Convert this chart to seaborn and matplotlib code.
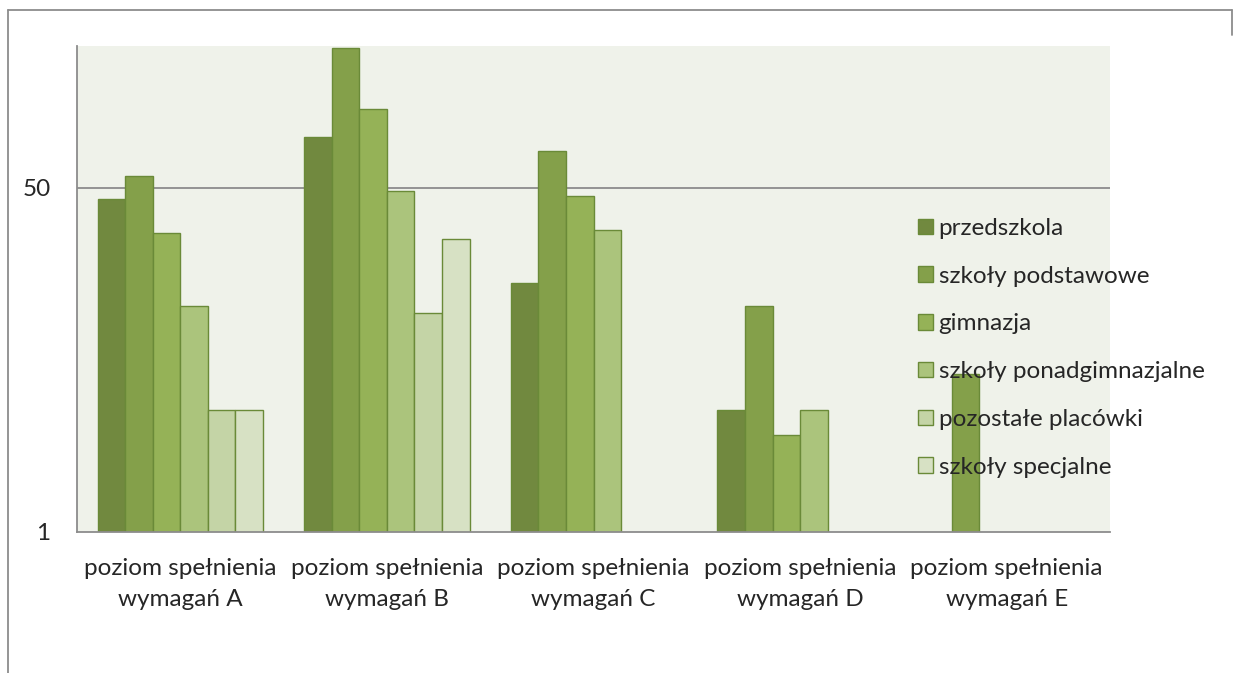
import numpy as np
import pandas as pd
import matplotlib
matplotlib.use("Agg")
import matplotlib.pyplot as plt
from matplotlib.lines import Line2D
import seaborn as sns

categories = ["poziom spełnienia\nwymagań A", "poziom spełnienia\nwymagań B",
              "poziom spełnienia\nwymagań C", "poziom spełnienia\nwymagań D",
              "poziom spełnienia\nwymagań E"]
series = ["przedszkola", "szkoły podstawowe", "gimnazja",
          "szkoły ponadgimnazjalne", "pozostałe placówki", "szkoły specjalne"]
przedszkola = [44, 89, 17, 4, np.nan]
podstawowe = [57, 244, 76, 13, 6]
gimnazja = [30, 122, 45.6, 3, np.nan]
ponadgimnazjalne = [13, 48, 31, 4, np.nan]
pozostale = [4, 12, np.nan, np.nan, np.nan]
specjalne = [4, 28, np.nan, np.nan, np.nan]
colors = ["#71893F", "#84A04A", "#95B257", "#ABC47C", "#C4D4A6", "#D7E1C4"]

rows = []
for s, vals in zip(series, [przedszkola, podstawowe, gimnazja, ponadgimnazjalne, pozostale, specjalne]):
    for c, v in zip(categories, vals):
        rows.append({"cat": c, "series": s, "value": v})
df = pd.DataFrame(rows)

sns.set_style("white")
plt.rcParams["font.family"] = ["Lato", "DejaVu Sans"]
FS = 17.5

fig = plt.figure(figsize=(12.41, 6.73), dpi=100)
ax = fig.add_axes([77/1241, 1-532/673, (1110-77)/1241, (532-46)/673])
ax.set_facecolor("#EFF2EA")

sns.barplot(data=df, x="cat", y="value", hue="series", order=categories,
            hue_order=series, palette=colors, saturation=1, width=0.8, ax=ax,
            edgecolor="#6A8A38", linewidth=1.0, errorbar=None, log_scale=True)

ax.set_yscale("log")
ax.set_ylim(1, 250)
ax.set_xlim(-0.5, 4.5)
ax.set_yticks([1, 50])
ax.set_yticklabels(["1", "50"], fontsize=FS)
ax.yaxis.set_minor_locator(matplotlib.ticker.NullLocator())
ax.axhline(50, color="#8C8C8C", lw=1.3, zorder=0.5)

ax.set_xticks([-0.5, 0.5, 1.5, 2.5, 3.5, 4.5])
ax.set_xticklabels([])
ax.set_xticks(range(5), minor=True)
ax.set_xticklabels(categories, minor=True, fontsize=FS, linespacing=1.55)
ax.tick_params(axis="x", which="major", length=7, color="#8C8C8C", width=1.3)
ax.tick_params(axis="x", which="minor", length=0, pad=19)
ax.tick_params(axis="y", length=7, color="#8C8C8C", width=1.3, pad=12)
ax.set_xlabel("")
ax.set_ylabel("")

for side in ["top", "right"]:
    ax.spines[side].set_visible(False)
for side in ["left", "bottom"]:
    ax.spines[side].set_color("#8C8C8C")
    ax.spines[side].set_linewidth(1.3)

handles, labels = ax.get_legend_handles_labels()
leg = ax.legend(handles, labels, loc="upper left", bbox_to_anchor=(918/1241, 1-218/673),
                bbox_transform=fig.transFigure, frameon=False, fontsize=FS,
                handlelength=0.6, handleheight=0.6, handletextpad=0.25,
                labelspacing=1.1, borderaxespad=0, borderpad=0)

# outer chart frame
fig.add_artist(Line2D([8/1241, 1232/1241], [1-10/673, 1-10/673], color="#8C8C8C", lw=1.3))
fig.add_artist(Line2D([8/1241, 8/1241], [1-10/673, 0], color="#8C8C8C", lw=1.3))
fig.add_artist(Line2D([1232/1241, 1232/1241], [1-10/673, 1-35/673], color="#8C8C8C", lw=1.3))

fig.savefig("out.png", dpi=100)
